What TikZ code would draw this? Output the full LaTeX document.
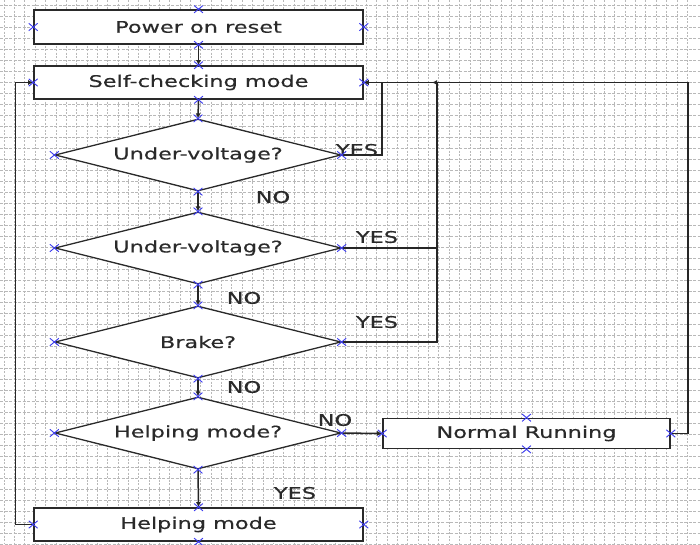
\documentclass[tikz,border=0pt]{standalone}
\usepackage{fontspec}
\setmainfont{DejaVu Sans}[FakeStretch=1.4,FakeBold=0.4]
\usetikzlibrary{shapes.geometric,shapes.misc,arrows.meta}
\definecolor{ink}{HTML}{2A2A2A}
\definecolor{gridc}{HTML}{B8B8B8}
\definecolor{xblue}{HTML}{3C3CF0}
\tikzset{
  box/.style={draw=ink,line width=1.6pt,fill=white,rectangle,inner sep=0pt,text=ink,font=\fontsize{16}{19}\selectfont},
  dia/.style={draw=ink,line width=1.3pt,fill=white,diamond,aspect=4,inner sep=0pt,minimum width=286pt,minimum height=72pt,text=ink,font=\fontsize{16}{19}\selectfont},
  lbl/.style={text=ink,inner sep=0pt,font=\fontsize{16}{19}\selectfont},
  conn/.style={draw=black!85,line width=1.5pt},
  arr/.style={conn,-{Latex[length=5pt,width=5pt]}},
  xm/.style={cross out,draw=xblue,line width=0.9pt,minimum width=8pt,minimum height=6.5pt,inner sep=0pt},
}
\begin{document}
\begin{tikzpicture}[x=1pt,y=-1pt]
\useasboundingbox (0,0) rectangle (700,544);
\fill[white] (0,0) rectangle (700,544);
% background grid
\foreach \i in {0,...,66} {\draw[gridc,line width=0.5pt,dash pattern=on 2pt off 1.5pt] (4+\i*10.35,0) -- (4+\i*10.35,544);}
\foreach \j in {0,...,49} {\draw[gridc,line width=0.5pt,dash pattern=on 3pt off 1.5pt] (0,5+\j*11) -- (700,5+\j*11);}
% nodes
\node[box,minimum width=329pt,minimum height=34pt] (por) at (198.5,27) {Power on reset};
\node[box,minimum width=329pt,minimum height=33pt] (scm) at (198.5,82.5) {Self-checking mode};
\node[dia] (d1) at (198,155) {Under-voltage?};
\node[dia] (d2) at (198,248) {Under-voltage?};
\node[dia] (d3) at (198,342) {Brake?};
\node[dia] (d4) at (198,433) {Helping mode?};
\node[box,minimum width=287pt,minimum height=30pt] (nr) at (526.5,433.5) {Normal Running};
\node[box,minimum width=329pt,minimum height=33pt] (hm) at (198.5,524.5) {Helping mode};
% helper coordinates
\coordinate (lft) at (15.5,0);
\coordinate (r1) at (382,0);
\coordinate (r2) at (437,0);
\coordinate (r3) at (688,0);
\coordinate (j) at (432,82.5);
% connectors
\draw[arr] (por.south) -- (scm.north);
\draw[arr] (scm.south) -- (d1.north);
\draw[arr] (d1.south) -- (d2.north);
\draw[arr] (d2.south) -- (d3.north);
\draw[arr] (d3.south) -- (d4.north);
\draw[arr] (d4.south) -- (hm.north);
\draw[arr] (d4.east) -- (nr.west);
\draw[arr] (hm.west) -- (hm.west -| lft) |- (scm.west);
\draw[arr] (d1.east) -- (d1.east -| r1) |- (scm.east);
\draw[arr] (d2.east) -- (d2.east -| r2) |- (j);
\draw[conn] (d3.east) -- (d3.east -| r2) -- (d2.east -| r2);
\draw[arr] (nr.east) -- (nr.east -| r3) |- (scm.east);
% labels
\node[lbl] (l1) at (357,150) {YES};
\node[lbl] (l2) at (273,197) {NO};
\node[lbl] (l3) at (377,237) {YES};
\node[lbl] (l4) at (244,298) {NO};
\node[lbl] (l5) at (377,322) {YES};
\node[lbl] (l6) at (244,387) {NO};
\node[lbl] (l7) at (335,420) {NO};
\node[lbl] (l8) at (295,493) {YES};
% connection markers
\foreach \n in {por,scm,nr,hm,d1,d2,d3,d4} {
  \node[xm] at (\n.north) {};
  \node[xm] at (\n.south) {};
  \node[xm] at (\n.west) {};
  \node[xm] at (\n.east) {};
}
\end{tikzpicture}
\end{document}
